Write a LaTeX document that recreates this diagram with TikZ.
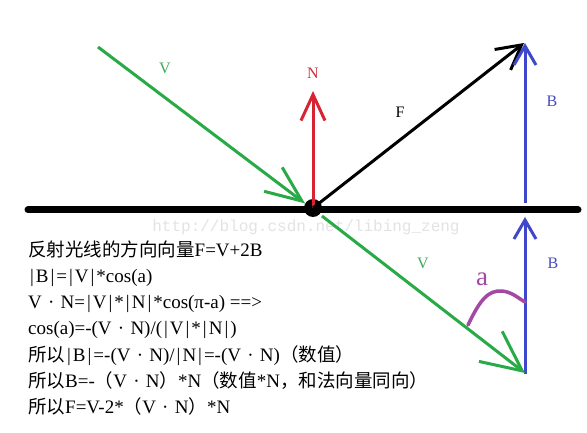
\documentclass[tikz,border=0pt]{standalone}
\usepackage{fontspec}
\setmainfont{Liberation Serif}
\newfontfamily\cjk{Noto Sans CJK SC}
\newfontfamily\wmfont{Liberation Mono}
\usetikzlibrary{arrows.meta}
\definecolor{mygreen}{RGB}{40,170,70}
\definecolor{myred}{RGB}{215,35,50}
\definecolor{myblue}{RGB}{63,72,204}
\definecolor{mypurple}{RGB}{163,73,164}
\definecolor{lgreen}{RGB}{60,170,90}
\definecolor{lred}{RGB}{200,50,60}
\definecolor{lblue}{RGB}{70,75,190}
\newcommand\vb{\kern2pt|\kern2pt}
\newcommand\dt{\kern1.5pt~·~\kern1.5pt}
\newcommand\zh[1]{{\cjk\fontsize{18.5}{20}\selectfont #1}}
\begin{document}
\begin{tikzpicture}[x=1pt,y=-1pt,
  vec/.style={line width=3pt},
  lbl/.style={font=\fontsize{16}{18}\selectfont, inner sep=0pt},
  eq/.style={anchor=base west, inner sep=0pt, font=\fontsize{19}{21}\selectfont},
  bigtip/.style={-{Straight Barb[length=36pt,width=30pt,line width=3pt]}},
  midtip/.style={-{Straight Barb[length=26pt,width=24pt,line width=3pt]}},
  smalltip/.style={-{Straight Barb[length=19pt,width=22pt,line width=3pt]}},
  ftip/.style={-{Straight Barb[length=24pt,width=26pt,line width=3pt]}},
  hugetip/.style={-{Straight Barb[length=40pt,width=38pt,line width=3pt]}}
]
\useasboundingbox (0,0) rectangle (587,433);
\fill[white] (0,0) rectangle (587,433);

% watermark
\node[font=\wmfont\fontsize{16}{18}\selectfont, text=gray!22, inner sep=0pt] (wm) at (306,227) {http://blog.csdn.net/libing\_zeng};

% surface
\coordinate (L1) at (28,210);
\coordinate (L2) at (578,210);
\draw[line width=7pt, line cap=round] (L1) -- (L2);

\node[circle, fill=black, minimum size=18pt, inner sep=0pt] (O) at (313,208) {};

% coordinates
\coordinate (Vs) at (98,47);
\coordinate (Ntip) at (313,91);
\coordinate (Ftip) at (524,43);
\coordinate (Bt) at (525,43);
\coordinate (Bb) at (525,203);
\coordinate (B2t) at (525,217);
\coordinate (B2b) at (525,374);
\coordinate (V2s) at (322,216);
\coordinate (V2e) at (525,373);

% incoming V
\draw[vec, mygreen, bigtip] (Vs) -- (O.150);
% N
\draw[vec, myred, midtip] (O.center) -- (Ntip);
% F
\draw[vec, black, ftip] (O.center) -- (Ftip);
% upper B
\draw[vec, myblue, smalltip] (Bb) -- (Bt);
% lower B
\draw[vec, myblue, smalltip] (B2b) -- (B2t);
% lower V
\draw[vec, mygreen, hugetip] (V2s) -- (V2e);
% angle arc
\draw[line width=3.5pt, mypurple, line cap=round] (468,325) .. controls (480,300) and (488,290) .. (502,291) .. controls (512,292) and (518,298) .. (525,302);

% labels
\node[lbl, text=lgreen] (lV) at (165,68) {V};
\node[lbl, text=lred] (lN) at (313,73) {N};
\node[lbl, text=black] (lF) at (400,112) {F};
\node[lbl, text=lblue] (lB) at (552,101) {B};
\node[lbl, text=lblue] (lB2) at (553,263) {B};
\node[lbl, text=lgreen] (lV2) at (423,263) {V};
\node[inner sep=0pt, text=mypurple, font=\fontsize{27}{29}\selectfont] (la) at (482,279) {a};

% equations
\node[eq] (t1) at (28,256) {\zh{反射光线的方向向量}F=V+2B};
\node[eq] (t2) at (28,282.3) {\vb B\vb=\vb V\vb*cos(a)};
\node[eq] (t3) at (28,308.6) {V\dt N=\vb V\vb*\vb N\vb*cos(π-a) ==>};
\node[eq] (t4) at (28,334.9) {cos(a)=-(V\dt N)/(\vb V\vb*\vb N\vb)};
\node[eq] (t5) at (28,361.2) {\zh{所以}\vb B\vb=-(V\dt N)/\vb N\vb=-(V\dt N)\zh{（数值）}};
\node[eq] (t6) at (28,387.5) {\zh{所以}B=-\zh{（}V\dt N\zh{）}*N\zh{（数值}*N\zh{，和法向量同向）}};
\node[eq] (t7) at (28,413.8) {\zh{所以}F=V-2*\zh{（}V\dt N\zh{）}*N};
\end{tikzpicture}
\end{document}
